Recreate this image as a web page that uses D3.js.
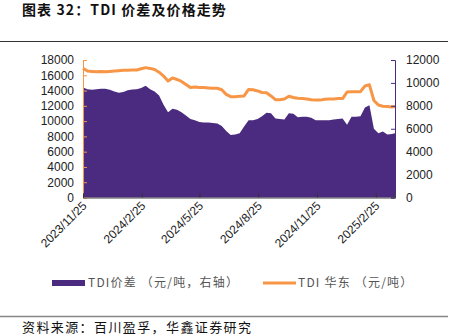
<!DOCTYPE html>
<html><head><meta charset="utf-8">
<script src="https://cdn.jsdelivr.net/npm/d3@7"></script>
<style>body{margin:0;background:#fff}svg{display:block}</style>
</head><body>
<svg id="c" width="458" height="336"></svg>
<script>
const dates = ["2023/11/25","2023/12/2","2023/12/9","2023/12/16","2023/12/23","2023/12/30","2024/1/6","2024/1/13","2024/1/20","2024/1/27",
"2024/2/3","2024/2/10","2024/2/17","2024/2/24","2024/3/2","2024/3/9","2024/3/16","2024/3/23","2024/3/30","2024/4/6",
"2024/4/13","2024/4/20","2024/4/27","2024/5/4","2024/5/11","2024/5/18","2024/5/25","2024/6/1","2024/6/8","2024/6/15",
"2024/6/22","2024/6/29","2024/7/6","2024/7/13","2024/7/20","2024/7/27","2024/8/3","2024/8/10","2024/8/17","2024/8/24",
"2024/8/31","2024/9/7","2024/9/14","2024/9/21","2024/9/28","2024/10/5","2024/10/12","2024/10/19","2024/10/26","2024/11/2",
"2024/11/9","2024/11/16","2024/11/23","2024/11/30","2024/12/7","2024/12/14","2024/12/21","2024/12/28","2025/1/4","2025/1/11",
"2025/1/18","2025/1/25","2025/2/1","2025/2/8","2025/2/15","2025/2/22","2025/3/1","2025/3/8","2025/3/15","2025/3/22","2025/3/27"];
const priceEast = [16900,16550,16500,16450,16500,16450,16500,16550,16600,16650,
16650,16700,16700,16850,17000,16900,16750,16400,15900,15250,
15650,15450,15200,14800,14400,14450,14400,14400,14350,14300,
14300,14100,13500,13200,13200,13250,13300,14150,14100,13950,
13750,13700,13300,12800,12800,12900,13250,13100,13000,12950,
12900,12800,12750,12750,12850,12900,12900,12950,12950,13800,
13850,13850,13850,14600,14750,12700,12100,11950,11900,11850,11900];
const spread = [9600,9450,9400,9450,9500,9500,9400,9250,9150,9200,
9350,9430,9450,9550,9750,9450,9250,8900,8100,7450,
7750,7650,7450,7150,6850,6750,6600,6550,6550,6500,
6450,6250,5800,5450,5500,5600,6200,6750,6750,6850,
7100,7400,7350,6900,6850,6800,7350,7300,7000,7050,
7050,6950,6750,6750,6750,6750,6800,6850,6900,6350,
7050,7050,7100,7850,8050,6000,5600,5750,5500,5550,5600];
const xTickLabels = ["2023/11/25","2024/2/25","2024/5/25","2024/8/25","2024/11/25","2025/2/25"];
const leftTicks = [0,2000,4000,6000,8000,10000,12000,14000,16000,18000];
const rightTicks = [0,2000,4000,6000,8000,10000,12000];

const parse = d3.timeParse("%Y/%m/%d");
const data = dates.map((d,i)=>({date:parse(d), price:priceEast[i], spread:spread[i]}));

const svg = d3.select("#c");
const L=83, R=395, T=60, B=197.5;
const purple="#4b2b7f", orange="#f79646";

const x = d3.scaleTime().domain([parse("2023/11/25"), parse("2025/3/27")]).range([L,R]);
const yL = d3.scaleLinear().domain([0,18000]).range([B,T]);
const yR = d3.scaleLinear().domain([0,12000]).range([B,T]);

// title
svg.append("text").attr("x",22).attr("y",15).attr("font-family","'Noto Sans CJK SC'").attr("font-weight","bold")
  .attr("font-size",14).attr("letter-spacing",1.1).attr("fill","#111").text("图表 32：TDI 价差及价格走势");
svg.append("line").attr("x1",0).attr("x2",448).attr("y1",41.5).attr("y2",41.5).attr("stroke","#333").attr("stroke-width",1);

// area
svg.append("path").datum(data).attr("fill",purple)
  .attr("d", d3.area().x(d=>x(d.date)).y0(yR(0)).y1(d=>yR(d.spread)));
// line
svg.append("path").datum(data).attr("fill","none").attr("stroke",orange).attr("stroke-width",3)
  .attr("stroke-linejoin","round")
  .attr("d", d3.line().x(d=>x(d.date)).y(d=>yL(d.price)));

// left axis
const gl = svg.append("g").attr("transform",`translate(${L},0)`)
  .call(d3.axisRight(yL).tickValues(leftTicks).tickSize(4).tickFormat(d3.format("d")));
gl.select(".domain").attr("stroke",orange);
gl.selectAll(".tick line").attr("stroke",orange);
gl.selectAll(".tick text").attr("x",-9).attr("text-anchor","end");
// right axis
const gr = svg.append("g").attr("transform",`translate(${R},0)`)
  .call(d3.axisLeft(yR).tickValues(rightTicks).tickSize(4).tickFormat(d3.format("d")));
gr.select(".domain").attr("stroke",purple);
gr.selectAll(".tick line").attr("stroke",purple);
gr.selectAll(".tick text").attr("x",11).attr("text-anchor","start");
[gl,gr].forEach(g=>g.selectAll(".tick text").attr("font-family","'Liberation Sans',Arial").attr("font-size",12).attr("fill","#222"));

// x axis
const gx = svg.append("g").attr("transform",`translate(0,${B})`)
  .call(d3.axisTop(x).tickValues(xTickLabels.map(parse)).tickSize(4).tickFormat(d3.timeFormat("%Y/%-m/%-d")));
gx.select(".domain").attr("stroke","#444");
gx.selectAll(".tick line").attr("stroke","#333");
gx.selectAll(".tick text").attr("font-family","'Liberation Sans',Arial").attr("font-size",12).attr("fill","#222")
  .attr("text-anchor","end").attr("dy",0).attr("y",0)
  .attr("transform","translate(4,9) rotate(-45)");

// legend
const lg = svg.append("g").attr("font-family","'Noto Sans CJK SC'").attr("font-size",12).attr("letter-spacing",1.2).attr("fill","#555");
lg.append("rect").attr("x",52).attr("y",280).attr("width",33).attr("height",6).attr("fill",purple);
lg.append("text").attr("x",88).attr("y",287).text("TDI价差 （元/吨，右轴）");
lg.append("line").attr("x1",263).attr("x2",296).attr("y1",283).attr("y2",283).attr("stroke",orange).attr("stroke-width",3);
lg.append("text").attr("x",298).attr("y",287).text("TDI 华东 （元/吨）");

// footer
svg.append("line").attr("x1",0).attr("x2",448).attr("y1",316.5).attr("y2",316.5).attr("stroke","#888").attr("stroke-width",1.5);
svg.append("text").attr("x",22).attr("y",332).attr("font-family","'Noto Sans CJK SC'").attr("font-size",13).attr("letter-spacing",1.4).attr("fill","#111")
  .text("资料来源：百川盈孚，华鑫证券研究");
</script>
</body></html>
